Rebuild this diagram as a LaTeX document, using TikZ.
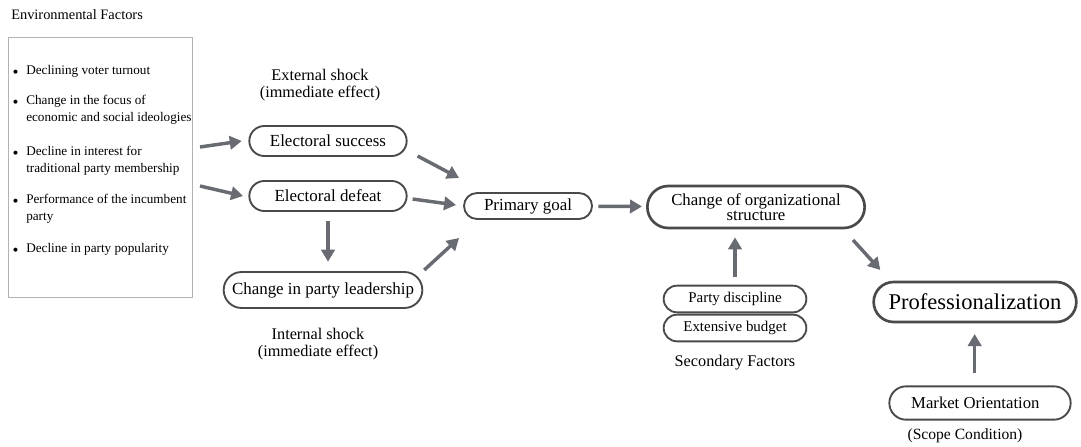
\documentclass[tikz,border=0pt]{standalone}
\usepackage{fontspec}
\setmainfont{Liberation Serif}
\usetikzlibrary{arrows.meta,shapes.misc,positioning}
\definecolor{flowgray}{HTML}{686B72}
\definecolor{edgegray}{HTML}{4A4A4A}
\tikzset{
  pill/.style={rounded rectangle,draw=edgegray,line width=1.4pt,inner sep=1pt,align=center,font=\fontsize{12.7}{13}\selectfont},
  bigpill/.style={pill,line width=2pt},
  smallpill/.style={pill,font=\fontsize{11.2}{12}\selectfont},
  caption/.style={align=center,inner sep=0pt,font=\fontsize{12.2}{12.5}\selectfont},
  flow/.style={-{Triangle[length=9pt,width=10pt]},draw=flowgray,line width=2.6pt},
}
\begin{document}
\begin{tikzpicture}[x=0.75pt,y=-0.75pt]
  \useasboundingbox (0,0) rectangle (1081,446);
  % environmental factors
  \node[caption,anchor=west,font=\fontsize{10.8}{12}\selectfont] (envtitle) at (11,15) {Environmental Factors};
  \node[draw=gray!60,line width=0.7pt,minimum width=138pt,minimum height=195pt] (env) at (100,167) {};
  \foreach \y/\t [count=\i] in {71/{Declining voter turnout},110/{Change in the focus of\\economic and social ideologies},161/{Decline in interest for\\traditional party membership},209/{Performance of the incumbent\\party},249/{Decline in party popularity}}
    \node[anchor=west,align=left,inner sep=0pt,font=\fontsize{9.9}{12.6}\selectfont] (item\i) at (26,\y) {\llap{\scriptsize$\bullet$\hspace{6pt}}\t};
  \coordinate (e1) at (200,147);
  \coordinate (e2) at (200,186);
  % shocks
  \node[caption] (ext) at (320,85) {External shock\\(immediate effect)};
  \node[pill,minimum width=120pt,minimum height=22.5pt] (succ) at (328,141) {Electoral success};
  \node[pill,minimum width=120pt,minimum height=22.5pt] (defeat) at (328,196) {Electoral defeat};
  \node[pill,minimum width=151pt,minimum height=27pt] (lead) at (323,290) {Change in party leadership};
  \node[caption] (int) at (318,344) {Internal shock\\(immediate effect)};
  % goal and structure
  \node[pill,minimum width=98pt,minimum height=19.5pt] (goal) at (528,206) {Primary goal};
  \node[bigpill,minimum width=165pt,minimum height=31.5pt,font=\fontsize{12.6}{11}\selectfont] (org) at (756,207) {Change of organizational\\structure};
  \node[smallpill,minimum width=109pt,minimum height=20pt] (disc) at (735,299) {Party discipline};
  \node[smallpill,minimum width=109pt,minimum height=20pt] (budget) at (735,328) {Extensive budget};
  \node[caption] (sec) at (735,363) {Secondary Factors};
  \node[bigpill,minimum width=154pt,minimum height=30pt,font=\fontsize{16.9}{18}\selectfont] (prof) at (975,302) {Professionalization};
  \node[smallpill,minimum width=138pt,minimum height=25pt,font=\fontsize{12.5}{13}\selectfont] (market) at (980,403) {Market Orientation\hspace{7pt}};
  \node[caption,font=\fontsize{11.7}{12}\selectfont] (scope) at (965,436) {(Scope Condition)};
  % arrows
  \draw[flow] (e1) -- ([xshift=-5]succ.west);
  \draw[flow] (e2) -- ([xshift=-4]defeat.west);
  \draw[flow] ([shift={(10,15)}]succ.east) -- ([shift={(-4,-28)}]goal.west);
  \draw[flow] ([shift={(5,3)}]defeat.east) -- ([shift={(-7,-1)}]goal.west);
  \draw[flow] ([shift={(1,-20)}]lead.east) -- ([shift={(-4,32)}]goal.west);
  \draw[flow,shorten <=7pt,shorten >=7pt] (defeat.south) -- (defeat.south |- lead.north);
  \draw[flow,shorten <=4pt,shorten >=3pt] (goal) -- (org);
  \draw[flow,shorten <=6pt,shorten >=6pt] (disc.north) -- (disc.north |- org.south);
  \draw[flow] ([shift={(-13,33)}]org.east) -- ([shift={(8,-32)}]prof.west);
  \draw[flow,shorten <=9pt,shorten >=8pt] ([xshift=-4]market.north) -- ([xshift=-4]market.north |- prof.south);
\end{tikzpicture}
\end{document}
